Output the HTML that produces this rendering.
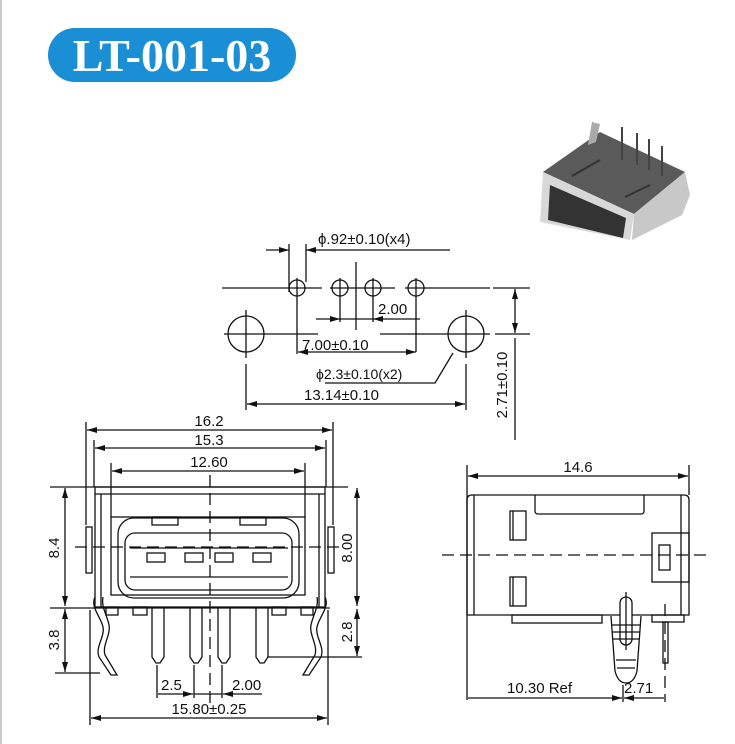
<!DOCTYPE html>
<html><head><style>
body{margin:0;background:#fff;}
svg{display:block;}
text{font-family:"Liberation Sans",sans-serif;font-size:15px;fill:#111;}
</style></head><body>
<svg width="735" height="744" viewBox="0 0 735 744" xmlns="http://www.w3.org/2000/svg">
<defs>
<marker id="a" viewBox="0 0 10 6" refX="10" refY="3" markerWidth="10" markerHeight="6" orient="auto-start-reverse" markerUnits="userSpaceOnUse"><path d="M0,0 L10,3 L0,6 z" fill="#111"/></marker>
</defs>
<line x1="1" y1="0" x2="1" y2="744" stroke="#ccc" stroke-width="2"/>
<rect x="48" y="28" width="248" height="54" rx="27" fill="#1a8fd6"/>
<text x="172" y="71" text-anchor="middle" style="font-family:'Liberation Serif',serif;font-weight:bold;font-size:46px;fill:#fff">LT-001-03</text>

<!-- photo -->
<g>
<polygon points="543,172 600,132 685,172 634,214" fill="#5a5a5a"/>
<polygon points="543,172 634,214 630,240 540,222" fill="#d8d8d8"/>
<polygon points="550,185 626,218 623,238 548,220" fill="#333"/>
<polygon points="634,214 685,172 690,195 682,215 632,240" fill="#c8c8c8"/>
<polygon points="588,145 592,122 600,124 596,142" fill="#aaa"/>
<g stroke="#444" stroke-width="2"><line x1="622" y1="127" x2="622" y2="160"/><line x1="637" y1="133" x2="637" y2="165"/><line x1="649" y1="139" x2="649" y2="170"/><line x1="662" y1="146" x2="662" y2="176"/></g>
<g stroke="#333" stroke-width="2"><line x1="572" y1="176" x2="600" y2="160"/><line x1="625" y1="197" x2="650" y2="185"/></g>
</g>

<g stroke="#111" stroke-width="1.3" fill="none">
<!-- hole pattern -->
<line x1="222" y1="288" x2="322" y2="288"/><line x1="330" y1="288" x2="395" y2="288"/><line x1="405" y1="288" x2="490" y2="288"/>
<line x1="493" y1="288" x2="530" y2="288"/>
<line x1="224" y1="334" x2="318" y2="334"/><line x1="380" y1="334" x2="490" y2="334"/><line x1="495" y1="334" x2="530" y2="334"/>
<circle cx="297" cy="288" r="8"/><circle cx="340" cy="288" r="8"/><circle cx="373" cy="288" r="8"/><circle cx="416" cy="288" r="8"/>
<line x1="297" y1="278" x2="297" y2="298"/><line x1="340" y1="278" x2="340" y2="322"/><line x1="373" y1="278" x2="373" y2="322"/><line x1="416" y1="278" x2="416" y2="352"/>
<line x1="297" y1="298" x2="297" y2="354"/>
<circle cx="246" cy="334" r="18"/><circle cx="466" cy="334" r="18"/>
<line x1="246" y1="310" x2="246" y2="358"/><line x1="466" y1="310" x2="466" y2="358"/>
<line x1="246" y1="364" x2="246" y2="410"/><line x1="466" y1="364" x2="466" y2="410"/>
<line x1="356" y1="262" x2="356" y2="330"/>
<line x1="289" y1="244" x2="289" y2="292"/><line x1="306" y1="244" x2="306" y2="282"/>
<line x1="266" y1="250" x2="289" y2="250" marker-end="url(#a)"/>
<line x1="450" y1="250" x2="306" y2="250" marker-end="url(#a)"/>
<line x1="316" y1="319" x2="340" y2="319" marker-end="url(#a)"/>
<line x1="340" y1="319" x2="373" y2="319"/>
<line x1="420" y1="319" x2="373" y2="319" marker-end="url(#a)"/>
<line x1="298" y1="352" x2="416" y2="352" marker-start="url(#a)" marker-end="url(#a)"/>
<polyline points="325,383 435,383 453,353"/>
<line x1="247" y1="404" x2="465" y2="404" marker-start="url(#a)" marker-end="url(#a)"/>
<line x1="515" y1="289" x2="515" y2="333" marker-start="url(#a)" marker-end="url(#a)"/>
<line x1="515" y1="338" x2="515" y2="440"/>

<!-- front view -->
<line x1="86" y1="422" x2="86" y2="525"/><line x1="333" y1="422" x2="333" y2="525"/>
<line x1="94" y1="440" x2="94" y2="487"/><line x1="326" y1="440" x2="326" y2="487"/>
<line x1="111" y1="463" x2="111" y2="517"/><line x1="305" y1="463" x2="305" y2="517"/>
<line x1="87" y1="430" x2="332" y2="430" marker-start="url(#a)" marker-end="url(#a)"/>
<line x1="95" y1="448" x2="325" y2="448" marker-start="url(#a)" marker-end="url(#a)"/>
<line x1="112" y1="471" x2="304" y2="471" marker-start="url(#a)" marker-end="url(#a)"/>
<line x1="50" y1="487" x2="348" y2="487"/>
<rect x="95" y="487" width="230" height="120"/>
<line x1="95" y1="494" x2="325" y2="494"/>
<line x1="101" y1="494" x2="101" y2="607"/><line x1="319" y1="494" x2="319" y2="607"/>
<rect x="111" y="517" width="194" height="78"/>
<rect x="86" y="527" width="6" height="46"/><rect x="328" y="527" width="6" height="46"/>
<rect x="118" y="518" width="181" height="80" rx="16"/>
<rect x="125" y="533" width="167" height="57" rx="10"/>
<rect x="152" y="517" width="26" height="8"/><rect x="240" y="517" width="26" height="8"/>
<line x1="130" y1="548" x2="288" y2="548"/>
<line x1="130" y1="577" x2="288" y2="577"/>
<rect x="147" y="553" width="18" height="9"/><rect x="185" y="553" width="18" height="9"/><rect x="215" y="553" width="18" height="9"/><rect x="253" y="553" width="18" height="9"/>
<rect x="106" y="607" width="12" height="8"/><rect x="133" y="607" width="14" height="8"/><rect x="272" y="607" width="14" height="8"/><rect x="301" y="607" width="12" height="8"/>
<path d="M152,607 v50 l4,6 h4 l4,-6 v-50"/><path d="M190,607 v50 l4,6 h4 l4,-6 v-50"/><path d="M218,607 v50 l4,6 h4 l4,-6 v-50"/><path d="M256,607 v50 l4,6 h4 l4,-6 v-50"/>
<path d="M95,597 c-5,10 6,20 8,30 c2,10 -8,20 -4,30 l12,18 h6 l-12,-20 c-3,-10 6,-20 4,-30 c-2,-10 -8,-18 -6,-28"/>
<path d="M325,597 c5,10 -6,20 -8,30 c-2,10 8,20 4,30 l-12,18 h-6 l12,-20 c3,-10 -6,-20 -4,-30 c2,-10 8,-18 6,-28"/>
<line x1="50" y1="608" x2="330" y2="608"/>
<line x1="65" y1="488" x2="65" y2="606" marker-start="url(#a)" marker-end="url(#a)"/>
<line x1="65" y1="609" x2="65" y2="672" marker-start="url(#a)" marker-end="url(#a)"/>
<line x1="55" y1="673" x2="100" y2="673"/>
<line x1="357" y1="488" x2="357" y2="606" marker-start="url(#a)" marker-end="url(#a)"/>
<line x1="357" y1="609" x2="357" y2="656" marker-start="url(#a)" marker-end="url(#a)"/>
<line x1="267" y1="657" x2="362" y2="657"/>
<line x1="157" y1="665" x2="157" y2="698"/><line x1="194" y1="665" x2="194" y2="698"/><line x1="222" y1="665" x2="222" y2="698"/>
<line x1="158" y1="694" x2="193" y2="694" marker-end="url(#a)"/>
<line x1="194" y1="694" x2="222" y2="694"/>
<line x1="262" y1="694" x2="223" y2="694" marker-end="url(#a)"/>
<line x1="90" y1="610" x2="90" y2="725"/><line x1="328" y1="610" x2="328" y2="725"/>
<line x1="91" y1="718" x2="327" y2="718" marker-start="url(#a)" marker-end="url(#a)"/>

<!-- side view -->
<line x1="467" y1="465" x2="467" y2="700"/><line x1="689" y1="465" x2="689" y2="495"/>
<line x1="468" y1="476" x2="688" y2="476" marker-start="url(#a)" marker-end="url(#a)"/>
<path d="M467,615 V500 q0,-5 5,-5 H684 q5,0 5,5 V615 Z"/>
<line x1="474" y1="495" x2="474" y2="615"/><line x1="681" y1="495" x2="681" y2="615"/>
<path d="M535,495 v16 q0,3 3,3 h103 q3,0 3,-3 v-16"/>
<rect x="510" y="511" width="16" height="29"/><line x1="513" y1="511" x2="513" y2="540"/>
<rect x="510" y="577" width="16" height="29"/><line x1="513" y1="577" x2="513" y2="606"/>
<rect x="652" y="533" width="37" height="49"/>
<rect x="659" y="545" width="11" height="25"/>
<rect x="512" y="615" width="90" height="8"/>
<path d="M611,616 l4,55 q3,12 11,12 q8,0 11,-12 l4,-55" fill="#fff"/>
<rect x="620" y="597" width="12" height="48" rx="6" fill="#fff"/>
<line x1="626" y1="592" x2="626" y2="650"/>
<line x1="612" y1="625" x2="640" y2="625"/><line x1="612" y1="632" x2="640" y2="632"/><line x1="613" y1="639" x2="639" y2="639"/><line x1="616" y1="660" x2="636" y2="660"/><line x1="617" y1="668" x2="635" y2="668"/>
<rect x="652" y="615" width="32" height="7"/>
<rect x="663" y="622" width="5" height="41"/>
<line x1="623" y1="685" x2="623" y2="702"/>
<line x1="468" y1="698" x2="622" y2="698" marker-end="url(#a)"/>
<line x1="664" y1="698" x2="624" y2="698" marker-end="url(#a)"/>
</g>
<g stroke="#111" stroke-width="1.3" stroke-dasharray="12,6" fill="none">
<line x1="75" y1="547" x2="345" y2="547"/>
<line x1="210" y1="475" x2="210" y2="705"/>
<line x1="442" y1="555" x2="708" y2="555"/>
<line x1="665" y1="604" x2="665" y2="702"/>
</g>

<text x="318" y="244">ϕ.92±0.10(x4)</text>
<text x="378" y="314">2.00</text>
<text x="302" y="350">7.00±0.10</text>
<text x="316" y="379" style="font-size:14px">ϕ2.3±0.10(x2)</text>
<text x="304" y="400">13.14±0.10</text>
<text transform="translate(507,385) rotate(-90)" text-anchor="middle">2.71±0.10</text>
<text x="209" y="426" text-anchor="middle">16.2</text>
<text x="209" y="445" text-anchor="middle">15.3</text>
<text x="209" y="467" text-anchor="middle">12.60</text>
<text transform="translate(59,548) rotate(-90)" text-anchor="middle">8.4</text>
<text transform="translate(59,640) rotate(-90)" text-anchor="middle">3.8</text>
<text transform="translate(352,548) rotate(-90)" text-anchor="middle">8.00</text>
<text transform="translate(352,632) rotate(-90)" text-anchor="middle">2.8</text>
<text x="161" y="690">2.5</text>
<text x="232" y="690">2.00</text>
<text x="209" y="714" text-anchor="middle">15.80±0.25</text>
<text x="578" y="472" text-anchor="middle">14.6</text>
<text x="507" y="693">10.30 Ref</text>
<text x="624" y="693">2.71</text>
</svg>
</body></html>
